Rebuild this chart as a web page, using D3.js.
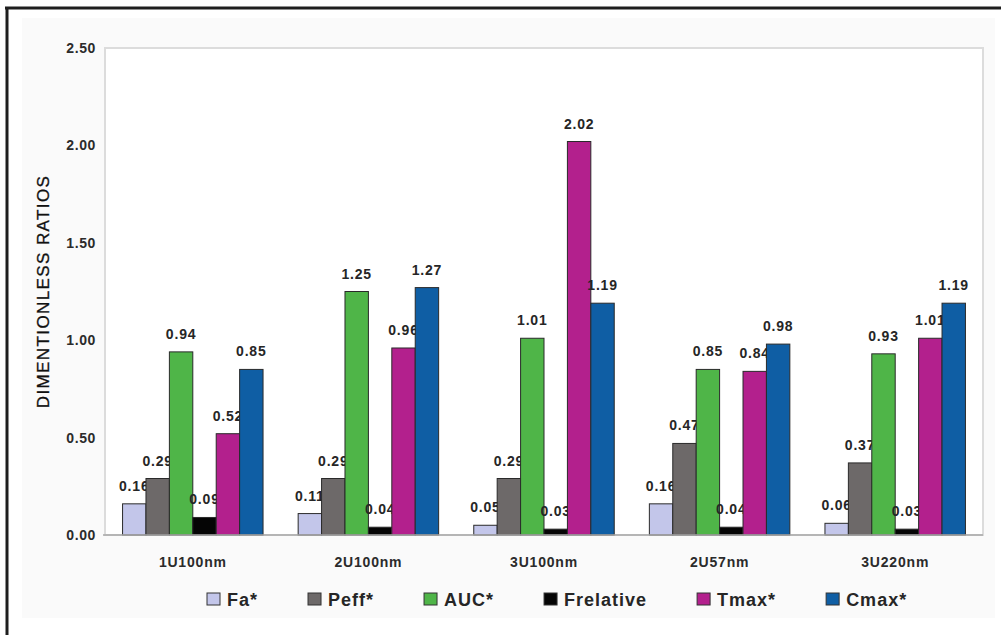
<!DOCTYPE html>
<html>
<head>
<meta charset="utf-8">
<script src="https://cdn.jsdelivr.net/npm/d3@7/dist/d3.min.js"></script>
<style>
  html, body { margin: 0; padding: 0; background: #fff; }
  svg { display: block; font-family: "Liberation Sans", Arial, sans-serif; }
</style>
</head>
<body>
<svg id="chart" width="1001" height="635"></svg>
<script>
// Formulations on the x axis
const categories = ["1U100nm", "2U100nm", "3U100nm", "2U57nm", "3U220nm"];

// Series names (legend order) and their dimensionless ratios per formulation
const seriesNames = ["Fa*", "Peff*", "AUC*", "Frelative", "Tmax*", "Cmax*"];
const fa        = [0.16, 0.11, 0.05, 0.16, 0.06];
const peff      = [0.29, 0.29, 0.29, 0.47, 0.37];
const auc       = [0.94, 1.25, 1.01, 0.85, 0.93];
const frelative = [0.09, 0.04, 0.03, 0.04, 0.03];
const tmax      = [0.52, 0.96, 2.02, 0.84, 1.01];
const cmax      = [0.85, 1.27, 1.19, 0.98, 1.19];
const seriesValues = [fa, peff, auc, frelative, tmax, cmax];

// Y axis ticks
const yTicks = [0, 0.5, 1.0, 1.5, 2.0, 2.5];
const yTitle = "DIMENTIONLESS RATIOS";

const colors = ["#c3c6ea", "#6d6969", "#4fb548", "#050505", "#b3208d", "#0f5ea4"];

const svg = d3.select("#chart");

// Frame: faint panel, heavy top and left rules
svg.append("rect").attr("x", 22).attr("y", 18).attr("width", 973).attr("height", 600)
  .attr("fill", "#fafafa");
svg.append("line").attr("x1", 5).attr("x2", 1001).attr("y1", 8).attr("y2", 8)
  .attr("stroke", "#1e1e1e").attr("stroke-width", 3);
svg.append("line").attr("x1", 7).attr("x2", 7).attr("y1", 7).attr("y2", 635)
  .attr("stroke", "#1e1e1e").attr("stroke-width", 3);

const plot = { left: 105, right: 983, top: 48, bottom: 535 };

svg.append("rect")
  .attr("x", plot.left).attr("y", plot.top)
  .attr("width", plot.right - plot.left).attr("height", plot.bottom - plot.top)
  .attr("fill", "#fff").attr("stroke", "#dcdcdc").attr("stroke-width", 2);

const x = d3.scaleBand().domain(categories).range([plot.left, plot.right]).padding(0);
const xs = d3.scaleBand().domain(seriesNames).range([0, x.bandwidth()])
  .paddingInner(0).paddingOuter(0.75);
const y = d3.scaleLinear().domain([0, 2.5]).range([plot.bottom, plot.top]);

// Y axis labels
const yAxis = svg.append("g").attr("transform", `translate(${plot.left},0)`)
  .call(d3.axisLeft(y).tickValues(yTicks).tickFormat(d3.format(".2f")).tickSize(0).tickPadding(9));
yAxis.select(".domain").remove();
yAxis.selectAll("text")
  .attr("font-size", 14).attr("font-weight", "bold").attr("fill", "#2b2b2b")
  .attr("letter-spacing", 0.6)
  .attr("font-family", "'Liberation Sans', Arial, sans-serif");

// Category labels
const xAxis = svg.append("g").attr("transform", `translate(0,${plot.bottom})`)
  .call(d3.axisBottom(x).tickSize(0).tickPadding(22));
xAxis.select(".domain").remove();
xAxis.selectAll("text")
  .attr("font-size", 14).attr("font-weight", "bold").attr("fill", "#2b2b2b")
  .attr("letter-spacing", 0.8)
  .attr("font-family", "'Liberation Sans', Arial, sans-serif");

// Bars and value labels, series by series so later bars sit over earlier labels
seriesNames.forEach((name, si) => {
  const g = svg.append("g");
  const data = categories.map((c, ci) => ({ c, v: seriesValues[si][ci] }));
  g.selectAll("rect").data(data).join("rect")
    .attr("x", d => x(d.c) + xs(name))
    .attr("y", d => y(d.v))
    .attr("width", xs.bandwidth())
    .attr("height", d => y(0) - y(d.v))
    .attr("fill", colors[si])
    .attr("stroke", "#2a2a2a").attr("stroke-width", 1);
  g.selectAll("text").data(data).join("text")
    .attr("x", d => x(d.c) + xs(name) + xs.bandwidth() / 2)
    .attr("y", d => y(d.v) - 13)
    .attr("text-anchor", "middle")
    .attr("font-size", 14).attr("font-weight", "bold").attr("fill", "#262626")
    .attr("letter-spacing", 0.8)
    .text(d => d.v.toFixed(2));
});

// Baseline
svg.append("line")
  .attr("x1", plot.left - 2).attr("x2", plot.right)
  .attr("y1", plot.bottom).attr("y2", plot.bottom)
  .attr("stroke", "#a8a8a8").attr("stroke-width", 1.5);

// Y title
svg.append("text")
  .attr("transform", `translate(49,${(plot.top + plot.bottom) / 2}) rotate(-90)`)
  .attr("text-anchor", "middle")
  .attr("font-size", 17).attr("fill", "#111")
  .attr("letter-spacing", 1.4)
  .attr("stroke", "#111").attr("stroke-width", 0.3)
  .text(yTitle);

// Legend
const legend = svg.append("g");
let lx = 207;
seriesNames.forEach((name, si) => {
  const item = legend.append("g").attr("transform", `translate(${lx},0)`);
  item.append("rect").attr("x", 0).attr("y", 593).attr("width", 13).attr("height", 12)
    .attr("fill", colors[si]).attr("stroke", "#333").attr("stroke-width", 1);
  const t = item.append("text").attr("x", 20).attr("y", 606)
    .attr("font-size", 18).attr("font-weight", "bold").attr("fill", "#262626")
    .attr("letter-spacing", 1)
    .text(name);
  lx += 20 + t.node().getComputedTextLength() + 50;
});
</script>
</body>
</html>
